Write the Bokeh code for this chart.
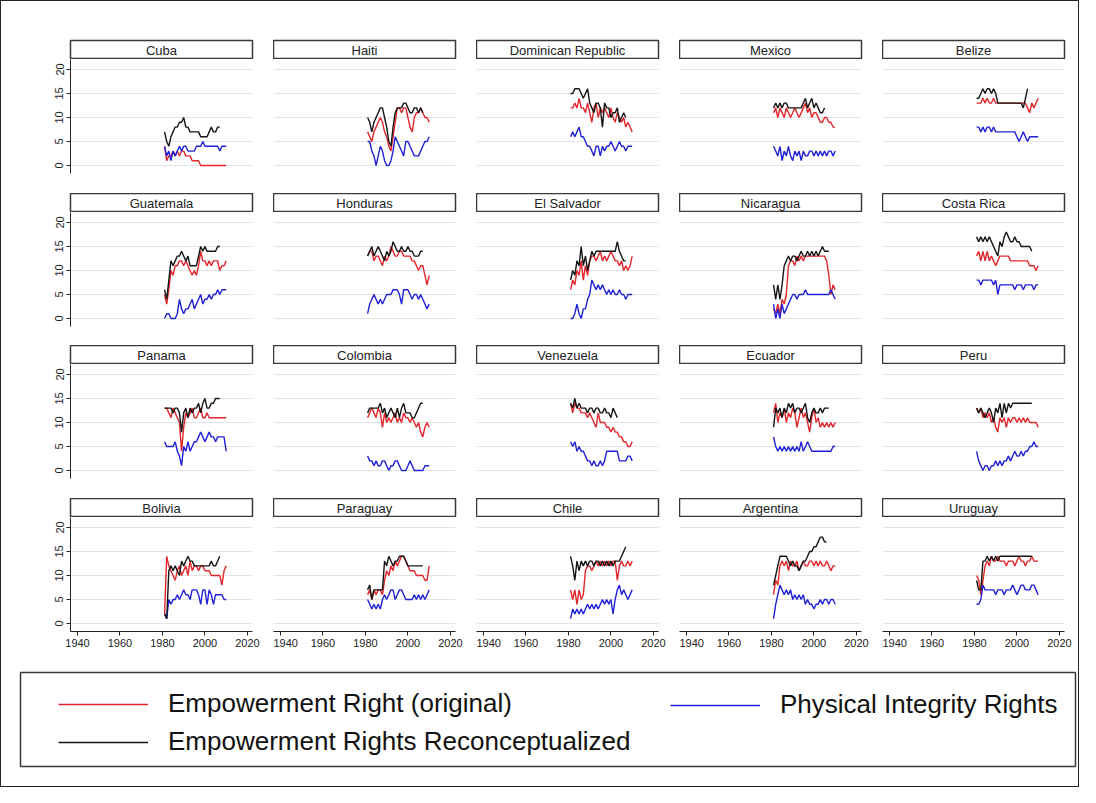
from bokeh.plotting import figure
from bokeh.layouts import row, column
from bokeh.models import Range1d, Label, Legend, LegendItem, FixedTicker, Grid
from bokeh.embed import file_html
from bokeh.resources import INLINE

YEARS = [1981, 1982, 1983, 1984, 1985, 1986, 1987, 1988, 1989, 1990,
         1991, 1992, 1993, 1994, 1995, 1996, 1997, 1998, 1999, 2000,
         2001, 2002, 2003, 2004, 2005, 2006, 2007, 2008, 2009, 2010]

COUNTRIES = ["Cuba", "Haiti", "Dominican Republic", "Mexico", "Belize",
             "Guatemala", "Honduras", "El Salvador", "Nicaragua", "Costa Rica",
             "Panama", "Colombia", "Venezuela", "Ecuador", "Peru",
             "Bolivia", "Paraguay", "Chile", "Argentina", "Uruguay"]

Y_TICKS = [0, 5, 10, 15, 20]
X_TICKS = [1940, 1960, 1980, 2000, 2020]

SERIES_LABELS = ["Empowerment Right (original)", "Physical Integrity Rights",
                 "Empowerment Rights Reconceptualized"]

# Empowerment Right (original) - red
EMP_ORIGINAL = {
    "Cuba": [4,1,2,2,3,2,3,2,3,3, 2,2,2,1,1,1,1,0,0,0, 0,0,0,0,0,0,0,0,0,0],
    "Haiti": [7,6,5,7,8,9,10,9,7,6, 4,3,6,9,12,12,11,12,12,10, 8,7,10,11,11,12,11,10,10,9],
    "Dominican Republic": [12,12,13,12,14,12,12,11,13,11, 9,12,13,10,12,11,12,11,10,12, 10,9,11,10,9,10,8,9,8,7],
    "Mexico": [11,12,10,12,11,10,12,11,10,11, 12,11,10,11,12,13,11,12,10,11, 11,10,9,9,10,10,9,9,8,8],
    "Belize": [13,13,13,14,13,14,13,13,14,13, 13,13,13,13,13,13,13,13,13,13, 13,13,13,13,12,11,13,12,13,14],
    "Guatemala": [5,3,6,10,9,11,11,12,12,11, 12,11,10,9,10,9,11,14,12,12, 11,12,11,12,12,12,10,11,11,12],
    "Honduras": [13,14,14,12,13,13,12,11,13,12, 13,15,14,13,13,14,14,13,13,13, 13,12,12,11,10,11,11,9,7,9],
    "El Salvador": [6,8,7,10,9,12,8,11,9,12, 13,13,12,13,14,12,13,12,13,14, 13,12,12,11,12,10,11,10,11,13],
    "Nicaragua": [2,1,3,1,4,3,5,11,12,12, 11,13,12,13,12,13,13,13,13,13, 13,13,13,13,13,12,9,5,7,6],
    "Costa Rica": [13,14,12,14,12,14,12,13,12,11, 12,13,13,13,13,13,12,12,12,12, 12,12,12,12,12,11,11,11,10,11],
    "Panama": [13,13,12,11,13,12,11,10,4,9, 12,11,12,13,11,11,12,13,11,11, 12,11,11,11,11,11,11,11,11,11],
    "Colombia": [11,12,13,12,11,13,12,9,12,10, 11,10,11,12,10,11,10,12,11,11, 10,11,10,9,10,8,7,9,10,9],
    "Venezuela": [14,12,14,13,13,12,12,12,11,12, 11,10,9,12,10,10,10,9,9,8, 9,8,8,7,7,6,6,5,5,6],
    "Ecuador": [12,14,10,12,11,13,10,12,11,13, 12,9,11,13,11,12,10,8,11,13, 10,11,9,10,9,10,9,10,9,10],
    "Peru": [13,12,13,11,12,11,12,10,11,9, 8,11,10,11,9,11,10,11,11,10, 11,10,11,10,11,10,10,10,10,9],
    "Bolivia": [2,14,12,11,10,9,11,12,10,11, 12,10,13,11,12,12,11,12,12,11, 11,11,10,10,10,10,10,8,11,12],
    "Paraguay": [6,7,5,7,6,7,7,6,9,11, 10,12,11,13,12,13,14,14,13,12, 11,11,11,10,10,10,10,9,9,12],
    "Chile": [7,5,7,4,7,5,6,11,12,12, 11,12,13,12,13,12,13,12,13,12, 13,13,9,12,13,12,12,13,12,13],
    "Argentina": [6,9,8,12,13,12,13,11,13,12, 12,13,11,12,13,12,12,13,13,12, 13,12,13,12,12,13,12,11,12,12],
    "Uruguay": [10,9,6,9,12,13,12,14,13,13, 14,13,13,13,12,13,13,13,12,13, 14,13,13,12,13,13,14,13,13,13],
}

# Physical Integrity Rights - blue
PHYS_INTEGRITY = {
    "Cuba": [4,2,3,1,3,2,3,4,3,4, 4,3,3,3,3,4,4,4,5,4, 4,4,4,4,4,4,3,4,4,4],
    "Haiti": [5,5,3,2,0,2,4,3,1,0, 0,1,3,6,5,4,3,2,5,5, 4,3,2,2,2,3,4,5,5,6],
    "Dominican Republic": [6,7,6,7,8,6,6,5,4,4, 3,2,4,4,2,4,3,4,4,5, 4,3,4,5,4,4,3,4,4,4],
    "Mexico": [4,3,2,4,1,3,2,4,2,1, 3,2,3,1,3,2,2,3,3,2, 3,2,3,2,3,2,3,3,2,3],
    "Belize": [8,8,7,8,7,8,8,7,8,7, 7,7,7,7,7,7,7,7,7,6, 5,6,7,6,5,6,6,6,6,6],
    "Guatemala": [0,1,1,0,0,0,1,4,2,1, 2,2,3,4,2,3,4,5,3,4, 4,5,4,5,5,6,5,6,6,6],
    "Honduras": [1,3,4,5,4,3,4,3,4,5, 5,5,6,6,6,5,3,6,6,6, 5,4,5,5,4,5,4,3,2,3],
    "El Salvador": [0,0,1,3,1,0,2,2,4,5, 8,7,6,7,6,7,6,5,6,5, 6,5,5,6,5,5,4,5,5,5],
    "Nicaragua": [3,0,2,0,3,1,2,3,4,5, 5,4,5,5,5,6,5,5,5,5, 5,5,5,5,5,5,5,6,5,4],
    "Costa Rica": [8,8,7,8,8,8,8,8,7,8, 5,7,7,7,7,7,7,7,6,7, 7,7,6,7,7,7,7,6,7,7],
    "Panama": [6,5,5,5,5,6,4,3,1,5, 4,6,4,5,6,6,7,8,7,6, 7,8,7,7,6,7,7,7,7,4],
    "Colombia": [3,2,2,1,2,1,1,2,2,1, 0,1,1,2,2,1,0,0,0,1, 2,1,0,0,0,0,0,1,1,1],
    "Venezuela": [6,5,6,4,5,4,4,3,2,2, 1,2,1,1,2,1,2,4,4,4, 4,4,4,2,2,2,2,3,3,2],
    "Ecuador": [7,5,4,5,4,5,4,5,4,5, 4,5,4,6,4,5,6,5,4,4, 4,4,4,4,4,4,4,4,5,5],
    "Peru": [4,2,1,0,1,1,0,1,1,2, 1,2,1,2,2,3,2,3,4,3, 3,4,3,4,4,5,5,6,5,5],
    "Bolivia": [2,1,5,4,5,5,6,5,6,7, 6,6,5,7,7,7,6,4,7,7, 4,7,6,4,6,6,6,6,5,5],
    "Paraguay": [5,4,3,4,3,4,3,5,6,5, 6,7,7,5,6,7,7,6,5,5, 5,5,6,5,6,5,6,5,6,7],
    "Chile": [1,3,2,3,2,3,2,3,4,3, 4,3,4,3,4,5,4,5,4,5, 2,5,7,8,6,7,6,5,6,7],
    "Argentina": [1,4,6,8,7,6,7,6,7,5, 6,5,6,5,6,4,5,4,4,3, 4,4,5,4,5,5,4,5,5,4],
    "Uruguay": [4,4,5,8,7,7,7,7,7,6, 7,7,7,6,7,7,7,8,7,6, 7,8,8,7,7,7,8,8,7,6],
}

# Empowerment Rights Reconceptualized - black (shorter series)
EMP_RECON = {
    "Cuba": [7,5,4,6,7,8,8,9,9,10, 8,8,7,7,7,7,7,6,6,6, 6,7,8,7,7,8,8],
    "Haiti": [10,9,7,9,10,11,12,12,10,8, 5,4,8,11,12,12,12,13,13,12, 11,11,12,12,11,12,11],
    "Dominican Republic": [15,15,16,16,16,15,14,15,16,13, 12,11,13,13,12,8,13,12,12,10, 11,11,12,9,10,11,10],
    "Mexico": [12,13,12,13,12,13,13,12,12,12, 12,12,12,12,13,14,12,13,14,12, 13,12,11,11,12],
    "Belize": [14,14,15,16,15,16,16,15,16,15, 13,13,13,13,13,13,13,13,13,13, 13,13,12,14,16],
    "Guatemala": [6,4,8,12,11,12,13,13,14,13, 12,13,11,11,11,11,13,15,14,15, 14,14,14,14,14,15,15],
    "Honduras": [13,14,15,13,14,15,14,13,12,14, 13,14,16,15,14,14,15,14,14,15, 14,14,13,13,13,14,14],
    "El Salvador": [8,10,9,12,11,15,11,13,10,12, 14,13,14,14,14,14,14,14,14,14, 14,14,16,14,13,12,12],
    "Nicaragua": [7,4,7,4,7,11,12,13,12,13, 13,12,13,14,13,13,14,13,14,13, 14,13,14,15,14,14,14],
    "Costa Rica": [17,16,17,16,17,16,17,16,15,14, 13,16,15,17,18,17,16,16,17,16, 16,15,15,15,15,15,14],
    "Panama": [13,13,13,13,12,13,13,12,8,12, 13,11,13,12,13,13,14,12,14,15, 13,13,14,14,15,15,15],
    "Colombia": [12,13,13,13,13,13,14,12,13,11, 12,13,12,11,13,11,13,14,12,12, 12,11,11,12,13,14,14],
    "Venezuela": [14,13,15,13,14,13,13,13,12,13, 13,12,13,13,12,12,13,12,12,11, 13,12,11],
    "Ecuador": [9,13,12,13,11,13,12,14,13,14, 12,13,13,12,13,14,11,10,12,13, 12,12,13,12,13,13,13],
    "Peru": [13,12,13,12,11,12,13,12,10,13, 12,14,11,14,12,14,13,14,14,14, 14,14,14,14,14,14,14],
    "Bolivia": [2,1,11,12,11,12,11,10,13,12, 13,14,13,13,12,12,12,12,12,12, 12,12,13,12,12,13,14],
    "Paraguay": [7,8,5,7,7,7,7,7,13,12, 14,13,12,13,13,14,14,14,13,12, 12,12,12,12,12,12,12],
    "Chile": [14,12,9,13,11,13,12,13,12,13, 13,12,13,13,12,13,12,13,12,13, 12,13,13,13,14,15,16],
    "Argentina": [8,10,12,14,14,14,14,13,12,13, 12,12,11,12,13,13,14,15,15,16, 16,17,18,18,17,17],
    "Uruguay": [9,7,7,13,13,14,13,14,13,14, 13,14,14,14,14,14,14,14,14,14, 14,14,14,14,14,14,14],
}

RED = "#e3262b"
BLUE = "#2020d8"
BLACK = "#151515"
FONT = "Liberation Sans"

FRAME_W = 182
FRAME_H = 114
STRIP_H = 19


def borders(c):
    left = 69 if c == 0 else 0
    right = 14 if c == 4 else 21
    return left, right


def make_strip(name, r, c):
    left, right = borders(c)
    s = figure(frame_width=FRAME_W, frame_height=STRIP_H,
               x_range=Range1d(0, 1), y_range=Range1d(0, 1),
               x_axis_type=None, y_axis_type=None,
               toolbar_location=None, output_backend="svg",
               min_border_left=left, min_border_right=right,
               min_border_top=39 if r == 0 else 0, min_border_bottom=0)
    s.outline_line_color = "#3a3a3a"
    s.outline_line_width = 1.5
    s.add_layout(Label(x=0.5, y=0.45, text=name, text_align="center",
                       text_baseline="middle", text_font=FONT,
                       text_font_size="13px", text_color="#222222"))
    return s


def make_panel(name, r, c):
    left, right = borders(c)
    bottom = {0: 20, 1: 19, 2: 20, 3: 29}[r]
    p = figure(frame_width=FRAME_W, frame_height=FRAME_H,
               x_range=Range1d(1936.7, 2022.4), y_range=Range1d(-1.67, 22.08),
               x_axis_location="below" if r == 3 else None,
               y_axis_location="left" if c == 0 else None,
               toolbar_location=None, output_backend="svg",
               min_border_left=left, min_border_right=right,
               min_border_top=0, min_border_bottom=bottom)
    p.outline_line_color = None
    p.grid.visible = False
    p.add_layout(Grid(dimension=1, ticker=FixedTicker(ticks=Y_TICKS),
                      grid_line_color="#e4e4e4", grid_line_width=1))
    for ax in p.xaxis + p.yaxis:
        ax.axis_line_color = "#222222"
        ax.axis_line_width = 1
        ax.major_tick_line_color = "#222222"
        ax.major_tick_out = 4
        ax.major_tick_in = 0
        ax.minor_tick_out = 0
        ax.minor_tick_in = 0
        ax.major_label_text_font = FONT
        ax.major_label_text_font_size = "11px"
        ax.major_label_text_color = "#222222"
        ax.major_label_standoff = 3
    p.xaxis.ticker = FixedTicker(ticks=X_TICKS)
    p.yaxis.ticker = FixedTicker(ticks=Y_TICKS)
    p.yaxis.major_label_orientation = "vertical"

    red = EMP_ORIGINAL[name]
    blue = PHYS_INTEGRITY[name]
    black = EMP_RECON[name]
    p.line(YEARS[:len(red)], red, line_color=RED, line_width=1.4)
    p.line(YEARS[:len(blue)], blue, line_color=BLUE, line_width=1.4)
    p.line(YEARS[:len(black)], black, line_color=BLACK, line_width=1.4)
    return p


rows = []
for r in range(4):
    cells = []
    for c in range(5):
        name = COUNTRIES[r * 5 + c]
        cells.append(column(make_strip(name, r, c), make_panel(name, r, c)))
    rows.append(row(*cells))

lg = figure(frame_width=1055, frame_height=94,
            x_range=Range1d(0, 1), y_range=Range1d(0, 1),
            x_axis_type=None, y_axis_type=None,
            toolbar_location=None, output_backend="svg",
            min_border_left=19, min_border_right=3,
            min_border_top=12, min_border_bottom=20)
lg.outline_line_color = "#3a3a3a"
lg.outline_line_width = 1.5
NAN = float("nan")
r_red = lg.line(x=[NAN], y=[NAN], line_color=RED, line_width=1.6)
r_blue = lg.line(x=[NAN], y=[NAN], line_color=BLUE, line_width=1.6)
r_black = lg.line(x=[NAN], y=[NAN], line_color=BLACK, line_width=1.6)

common = dict(orientation="vertical", glyph_width=90, glyph_height=30,
              label_height=30, label_standoff=20, spacing=7, padding=0,
              margin=0, border_line_color=None, background_fill_alpha=0,
              label_text_font=FONT, label_text_font_size="26px",
              label_text_color="#111111")
leg_a = Legend(items=[LegendItem(label=SERIES_LABELS[0], renderers=[r_red]),
                      LegendItem(label=SERIES_LABELS[2], renderers=[r_black])],
               location=(38, 9), **common)
leg_b = Legend(items=[LegendItem(label=SERIES_LABELS[1], renderers=[r_blue])],
               location=(650, 46), **common)
lg.add_layout(leg_a)
lg.add_layout(leg_b)

layout = column(*rows, lg, styles={"border": "1.5px solid #222222"})

html = file_html(layout, INLINE, title="Rights by country")
open("out.html", "w").write(html)
